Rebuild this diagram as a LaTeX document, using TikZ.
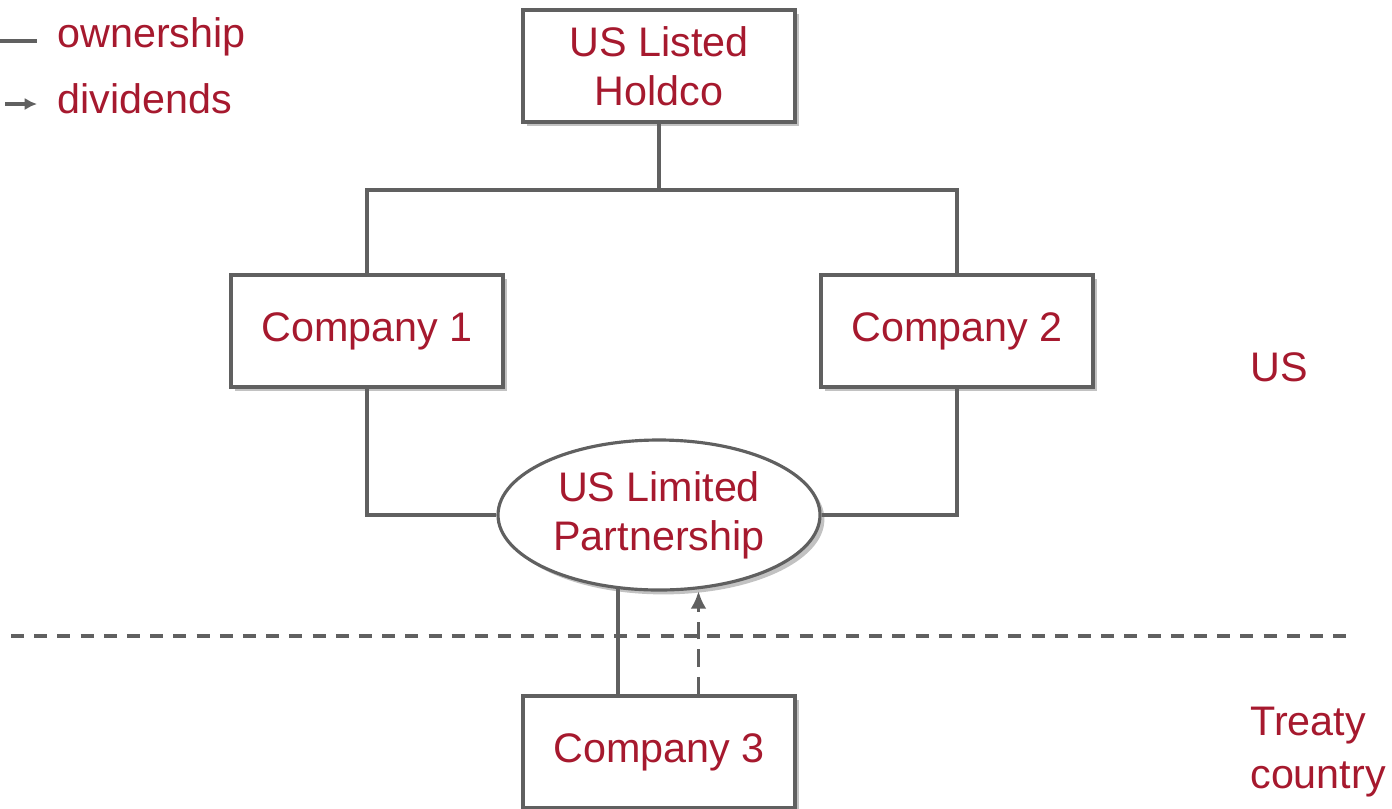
\documentclass[tikz,border=0pt]{standalone}
\usepackage{fontspec}
\setmainfont{Liberation Sans}
\usepackage{xcolor}
\usepackage{tikz}
\usetikzlibrary{shapes,arrows.meta,shadows,positioning}
\definecolor{labelred}{RGB}{166,25,46}
\definecolor{linegray}{RGB}{96,96,96}

\begin{document}
\begin{tikzpicture}[node distance = 5cm, auto]
        \tikzstyle{entity} = [rectangle, draw=linegray, line width=1.8pt, fill=white, text=labelred, align=center, minimum width=5.44cm, minimum height=2.24cm, font=\fontsize{23.5}{28}\selectfont, drop shadow={shadow xshift=2.5pt, shadow yshift=-2.5pt, fill=black!40, opacity=0.6}]
        \tikzstyle{partner} = [ellipse, draw=linegray, line width=1.8pt, fill=white, text=labelred, align=center, inner sep=0pt, minimum width=6.44cm, minimum height=3.0cm, font=\fontsize{23.5}{28}\selectfont, drop shadow={shadow xshift=2.5pt, shadow yshift=-2.5pt, fill=black!40, opacity=0.6}]
        \tikzstyle{line} = [draw=linegray, line width=1.8pt]
        \tikzstyle{flow} = [line, line width=2pt, dash pattern=on 10pt off 5.7pt, -{Latex[length=10pt,width=9pt]}]
        \tikzstyle{border} = [line, dash pattern=on 7.4pt off 5.8pt]
        \tikzstyle{tag} = [text=labelred, anchor=west, align=left, inner sep=0pt, font=\fontsize{23.5}{30}\selectfont]

    \useasboundingbox (0,0) rectangle (27.84,-16.16);

    % legend
    \coordinate (own a) at (0,-0.82);
    \coordinate (own b) at (0.74,-0.82);
    \coordinate (div a) at (0.1,-2.08);
    \coordinate (div b) at (0.74,-2.08);
    \path [line] (own a) -- (own b);
    \path [line, -{Latex[length=7pt,width=7pt]}] (div a) -- (div b);
    \node [tag] at (1.14,-0.74) (legend own) {ownership};
    \node [tag] at (1.14,-1.98) (legend div) {dividends};

    % entities
    \node [entity] at (13.18,-1.32) (holdco) {US Listed\\Holdco};
    \node [entity, below of=holdco, xshift=-5.84cm, node distance=5.3cm] (company 1) {Company 1};
    \node [entity, below of=holdco, xshift=5.96cm, node distance=5.3cm] (company 2) {Company 2};
    \node [partner, below of=holdco, node distance=8.98cm] (partnership) {US Limited\\Partnership};
    \node [entity, below of=partnership, node distance=4.74cm] (company 3) {Company 3};

    % jurisdictions
    \coordinate (border left) at (0.22,-12.72);
    \coordinate (border right) at (27.1,-12.72);
    \path [border] (border left) -- (border right);
    \node [tag] at (25.0,-7.34) (us) {US};
    \node [tag] at (25.0,-15.04) (treaty) {Treaty\\country};

    % ownership
    \coordinate [below of=holdco, node distance=2.48cm] (bus);
    \path [line] (holdco) -- (bus);
    \path [line] (company 1.north) |- (bus) -| (company 2.north);
    \path [line] (company 1.south) |- (partnership.west);
    \path [line] (company 2.south) |- (partnership.east);
    \path [line] (partnership.241) -- (partnership.241 |- company 3.north);

    % dividends
    \path [flow, shorten >=1pt] (partnership.298 |- company 3.north) -- (partnership.298);
    \end{tikzpicture}
\end{document}
